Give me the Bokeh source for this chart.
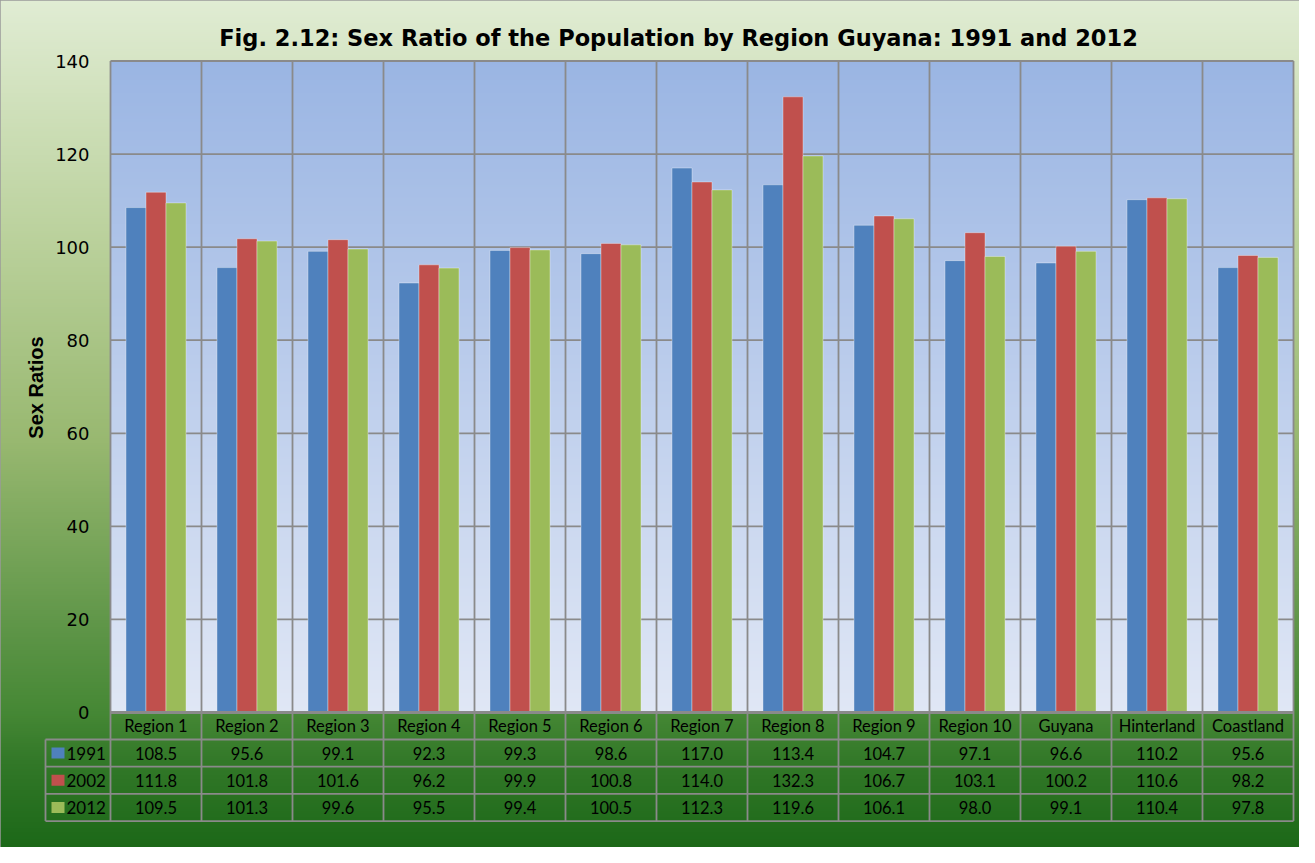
import numpy as np
from bokeh.plotting import figure
from bokeh.models import LinearAxis, FixedTicker, Label, Range1d
from bokeh.core.properties import value
from bokeh.embed import file_html
from bokeh.resources import INLINE

# ---------------- data ----------------
categories = ["Region 1", "Region 2", "Region 3", "Region 4", "Region 5", "Region 6",
              "Region 7", "Region 8", "Region 9", "Region 10", "Guyana", "Hinterland", "Coastland"]
series_names = ["1991", "2002", "2012"]
v1991 = [108.5, 95.6, 99.1, 92.3, 99.3, 98.6, 117.0, 113.4, 104.7, 97.1, 96.6, 110.2, 95.6]
v2002 = [111.8, 101.8, 101.6, 96.2, 99.9, 100.8, 114.0, 132.3, 106.7, 103.1, 100.2, 110.6, 98.2]
v2012 = [109.5, 101.3, 99.6, 95.5, 99.4, 100.5, 112.3, 119.6, 106.1, 98.0, 99.1, 110.4, 97.8]
y_ticks = [0, 20, 40, 60, 80, 100, 120, 140]
chart_title = "Fig. 2.12: Sex Ratio of the Population by Region Guyana: 1991 and 2012"
y_title = "Sex Ratios"

# ---------------- layout (pixels) ----------------
W, H = 1299, 847
PAGE = 8
PLOT_LEFT = 110.0      # canvas px of x = -0.5
CAT_W = 91.0           # px per category
Y0 = 712.0             # canvas px of y = 0
Y140 = 60.5            # canvas px of y = 140
PPU = (Y0 - Y140) / 140.0

def X(page_x):
    return (page_x - PAGE - PLOT_LEFT) / CAT_W - 0.5

def Y(page_y):
    return (Y0 - (page_y - PAGE)) / PPU

x_start, x_end = X(PAGE), X(PAGE + W)
y_start, y_end = Y(PAGE + H), Y(PAGE)

colors = ["#4f81bd", "#c0504d", "#9bbb59"]
grid_col = "#8a8a8a"
font_body = "Lato"

p = figure(width=W, height=H, x_range=Range1d(x_start, x_end), y_range=Range1d(y_start, y_end),
           x_axis_type=None, y_axis_type=None, toolbar_location=None, output_backend="svg",
           min_border=0, min_border_left=0, min_border_right=0, min_border_top=0, min_border_bottom=0)
p.title.visible = False
p.outline_line_color = "#9a9a9a"
p.outline_line_width = 2
p.background_fill_color = None
p.border_fill_color = None


def vgrad(stops, n=400):
    pos = [s[0] for s in stops]
    t = np.linspace(0, 1, n)
    img = np.empty((n, 2), dtype=np.uint32)
    view = img.view(dtype=np.uint8).reshape((n, 2, 4))
    for c in range(3):
        ch = np.interp(t, pos, [s[1][c] for s in stops])
        view[:, :, c] = np.round(ch)[:, None].astype(np.uint8)
    view[:, :, 3] = 255
    return img[::-1].copy()   # row 0 at the bottom


# outer green gradient (fraction of canvas height from the top)
outer = vgrad([(0.0, (224, 236, 211)), (0.29, (185, 208, 154)), (0.52, (152, 184, 112)),
               (0.75, (92, 148, 70)), (0.84, (70, 136, 53)), (0.90, (50, 120, 40)),
               (1.0, (28, 104, 24))])
p.image_rgba(image=[outer], x=x_start, y=y_start, dw=x_end - x_start, dh=y_end - y_start)

# plot-area blue gradient
n_cat = len(categories)
inner = vgrad([(0.0, (154, 181, 227)), (1.0, (224, 231, 245))])
p.image_rgba(image=[inner], x=-0.5, y=0, dw=n_cat, dh=140)

# table geometry (page px)
row_edges_px = [720.0, 747.0, 774.2, 801.4, 828.6]
row_edges = [Y(v) for v in row_edges_px]
legend_left = X(53)

# horizontal grid lines (plot area)
hy = [t for t in y_ticks if t > 0]
p.segment(x0=[-0.5] * len(hy), y0=hy, x1=[n_cat - 0.5] * len(hy), y1=hy,
          line_color=grid_col, line_width=1.8)
# vertical grid / table lines at category boundaries
bx = [i - 0.5 for i in range(n_cat + 1)]
p.segment(x0=bx, y0=[row_edges[-1]] * len(bx), x1=bx, y1=[140] * len(bx),
          line_color=grid_col, line_width=1.8)

# bars
offsets = [-0.22, 0.0, 0.22]
xs = list(range(n_cat))
for vals, off, col in zip([v1991, v2002, v2012], offsets, colors):
    p.vbar(x=[x + off for x in xs], top=vals, bottom=0, width=0.22,
           fill_color=col, line_color="white", line_alpha=0.35, line_width=1)

# table horizontal lines
p.segment(x0=[legend_left] * 4, y0=row_edges[1:], x1=[n_cat - 0.5] * 4, y1=row_edges[1:],
          line_color=grid_col, line_width=1.8)
# legend column left edge
p.segment(x0=[legend_left], y0=[row_edges[1]], x1=[legend_left], y1=[row_edges[-1]],
          line_color=grid_col, line_width=1.8)

# table values
for r, vals in enumerate([v1991, v2002, v2012]):
    yc = (row_edges[r + 1] + row_edges[r + 2]) / 2
    p.text(x=xs, y=[yc] * n_cat, text=["%.1f" % v for v in vals],
           text_font=value(font_body), text_font_size="16.5px", text_color="black",
           text_align="center", text_baseline="middle")
    # legend swatch + label
    p.rect(x=[X(65.5)], y=[yc], width=13, height=11, width_units="screen", height_units="screen",
           fill_color=colors[r], line_color=None)
    p.text(x=[X(74)], y=[yc], text=[series_names[r]], text_font=value(font_body),
           text_font_size="17px", text_color="black", text_align="left", text_baseline="middle")

# x axis: category labels in the header row
xaxis = LinearAxis(fixed_location=0, ticker=FixedTicker(ticks=xs),
                   major_label_overrides={i: c for i, c in enumerate(categories)},
                   bounds=(-0.5, n_cat - 0.5))
xaxis.axis_line_color = grid_col
xaxis.axis_line_width = 3
xaxis.major_tick_line_color = None
xaxis.minor_tick_line_color = None
xaxis.major_tick_out = 0
xaxis.major_tick_in = 0
xaxis.major_label_standoff = 3
xaxis.major_label_text_font = font_body
xaxis.major_label_text_font_size = "16.5px"
xaxis.major_label_text_color = "black"
p.add_layout(xaxis, "below")

# y axis
yaxis = LinearAxis(fixed_location=X(100), ticker=FixedTicker(ticks=y_ticks), bounds=(0, 140))
yaxis.axis_line_color = None
yaxis.major_tick_line_color = None
yaxis.minor_tick_line_color = None
yaxis.major_tick_out = 0
yaxis.major_tick_in = 0
yaxis.major_label_standoff = 3
yaxis.major_label_text_font = "DejaVu Sans"
yaxis.major_label_text_font_size = "18px"
yaxis.major_label_text_color = "black"
p.add_layout(yaxis, "left")

# titles
p.add_layout(Label(x=X(686), y=Y(45), text=chart_title, text_font="DejaVu Sans",
                   text_font_style="bold", text_font_size="22.5px", text_color="black",
                   text_align="center", text_baseline="middle"))
p.add_layout(Label(x=X(43.5), y=Y(395), text=y_title, angle=np.pi / 2, text_font="Liberation Sans",
                   text_font_style="bold", text_font_size="20px", text_color="black",
                   text_align="center", text_baseline="middle"))

open("out.html", "w").write(file_html(p, INLINE))
